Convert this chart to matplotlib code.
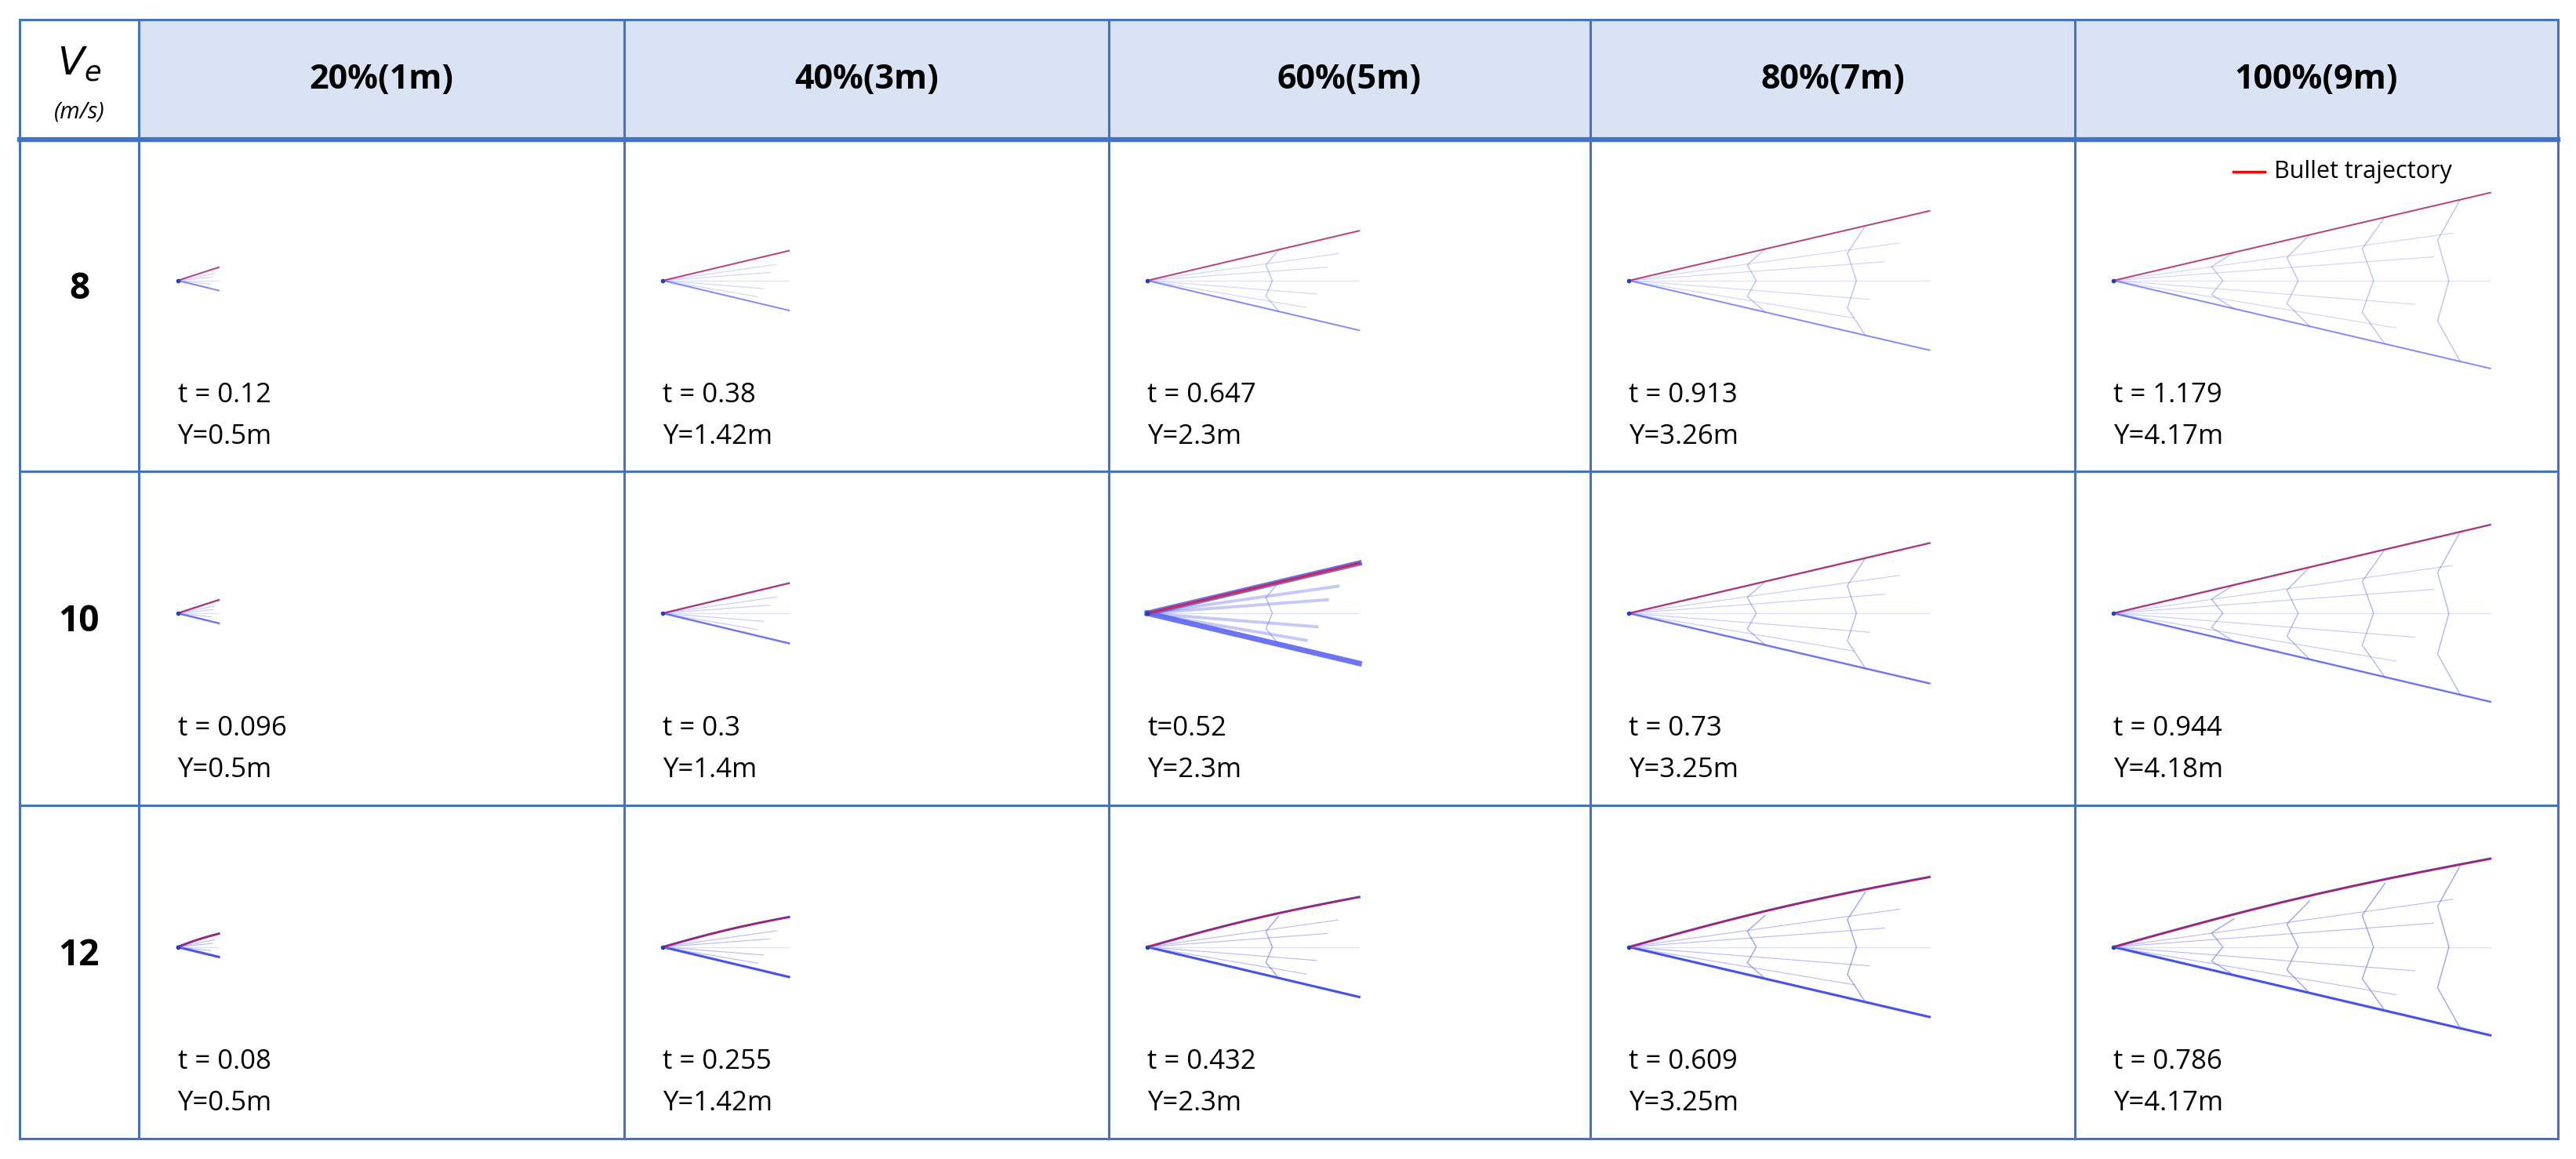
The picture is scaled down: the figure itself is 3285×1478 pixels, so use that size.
import numpy as np
import matplotlib
matplotlib.use("Agg")
import matplotlib.pyplot as plt

plt.rcParams['font.family'] = ['Open Sans', 'DejaVu Sans']

# ---- data ----
col_labels = ["20%(1m)", "40%(3m)", "60%(5m)", "80%(7m)", "100%(9m)"]
row_labels = ["8", "10", "12"]
t_labels = [["t = 0.12", "t = 0.38", "t = 0.647", "t = 0.913", "t = 1.179"],
            ["t = 0.096", "t = 0.3", "t=0.52", "t = 0.73", "t = 0.944"],
            ["t = 0.08", "t = 0.255", "t = 0.432", "t = 0.609", "t = 0.786"]]
y_labels = [["Y=0.5m", "Y=1.42m", "Y=2.3m", "Y=3.26m", "Y=4.17m"],
            ["Y=0.5m", "Y=1.4m", "Y=2.3m", "Y=3.25m", "Y=4.18m"],
            ["Y=0.5m", "Y=1.42m", "Y=2.3m", "Y=3.25m", "Y=4.17m"]]
# net extent, fraction of cell width / cell height
net_len = [0.085, 0.26, 0.44, 0.62, 0.78]
net_up = [0.04, 0.09, 0.15, 0.21, 0.265]
net_dn = [0.03, 0.09, 0.15, 0.21, 0.265]
n_ribs = [0, 0, 1, 2, 4]
row_weight = [0.35, 0.6, 1.0]
thick_cell = (1, 2)

# grid geometry (pixels)
W, H = 3285, 1478
xs = [25, 177, 796, 1414, 2028, 2646, 3262]
ys = [25, 178, 601, 1027, 1452]
LINE = "#4472c4"
HEAD = "#dae3f3"

fig = plt.figure(figsize=(W / 100, H / 100), dpi=100)
ax = fig.add_axes([0, 0, 1, 1])
ax.set_xlim(0, W); ax.set_ylim(H, 0); ax.axis("off")

ax.add_patch(plt.Rectangle((xs[1], ys[0]), xs[-1] - xs[1], ys[1] - ys[0],
                           color=HEAD, lw=0, zorder=0))
for x in xs:
    ax.plot([x, x], [ys[0], ys[-1]], color=LINE, lw=2.2, zorder=5)
for i, y in enumerate(ys):
    ax.plot([xs[0], xs[-1]], [y, y], color=LINE, lw=4.5 if i == 1 else 2.2, zorder=5)

# header
ax.text((xs[0] + xs[1]) / 2, 82, "$V_e$", ha="center", va="center", fontsize=36,
        family="DejaVu Serif")
ax.text((xs[0] + xs[1]) / 2, 143, "(m/s)", ha="center", va="center", fontsize=21,
        style="italic")
for j, lab in enumerate(col_labels):
    ax.text((xs[j + 1] + xs[j + 2]) / 2, (ys[0] + ys[1]) / 2, lab, ha="center",
            va="center", fontsize=31, fontweight="bold")

for i in range(3):
    top, bot = ys[i + 1], ys[i + 2]
    h = bot - top
    ax.text((xs[0] + xs[1]) / 2, top + 0.45 * h, row_labels[i], ha="center",
            va="center", fontsize=33, fontweight="bold")
    for j in range(5):
        left = xs[j + 1]
        w = xs[j + 2] - left
        x0, y0 = left + 0.08 * w, top + 0.425 * h
        L = net_len[j] * w
        up, dn = net_up[j] * h, net_dn[j] * h
        thick = (i, j) == thick_cell
        a = row_weight[i]
        lw_arm = 5 if thick else 1.0 + 1.2 * a
        s = np.linspace(0, 1, 12)
        ux, uy = x0 + s * L, y0 - s * up - 0.06 * up * np.sin(np.pi * s) * (i == 2)
        lx, ly = x0 + s * L, y0 + s * dn
        ax.plot(ux, uy, color="#3b46f0", lw=lw_arm, alpha=min(1, 0.45 + 0.5 * a))
        ax.plot(lx, ly, color="#3b46f0", lw=lw_arm, alpha=min(1, 0.45 + 0.5 * a))
        # inner mesh lines
        for k, f in enumerate([0.6, 0.3, -0.3, -0.6]):
            ax.plot([x0, x0 + L * (0.9 - 0.05 * k)], [y0, y0 - f * up * 0.9],
                    color="#5a66f0", lw=0.8 + 2 * thick, alpha=0.2 + 0.25 * a)
        ax.plot([x0, x0 + L], [y0, y0], color="#8890f0", lw=0.8, alpha=0.3)
        for r in range(n_ribs[j]):
            f = (r + 1) / (n_ribs[j] + 1) + 0.12
            rx = x0 + f * L
            ax.plot([rx, rx - 0.06 * L, rx - 0.03 * L, rx - 0.06 * L, rx],
                    [y0 - f * up, y0 - 0.5 * f * up, y0, y0 + 0.5 * f * dn, y0 + f * dn],
                    color="#5a66f0", lw=1.0, alpha=0.3 + 0.3 * a)
        # bullet trajectory
        ax.plot(ux, uy, color="red", lw=1.2 + 1.2 * thick, alpha=0.45 + 0.3 * a)
        ax.plot([x0], [y0], marker="o", ms=3, color="#2040c0")
        ax.text(left + 0.08 * w, top + 0.77 * h, t_labels[i][j], fontsize=25,
                va="center")
        ax.text(left + 0.08 * w, top + 0.895 * h, y_labels[i][j], fontsize=25,
                va="center")

# legend
ax.plot([2848, 2888], [219, 219], color="red", lw=2.5)
ax.text(2900, 219, "Bullet trajectory", fontsize=22, va="center")

fig.savefig("out.png", dpi=100)
